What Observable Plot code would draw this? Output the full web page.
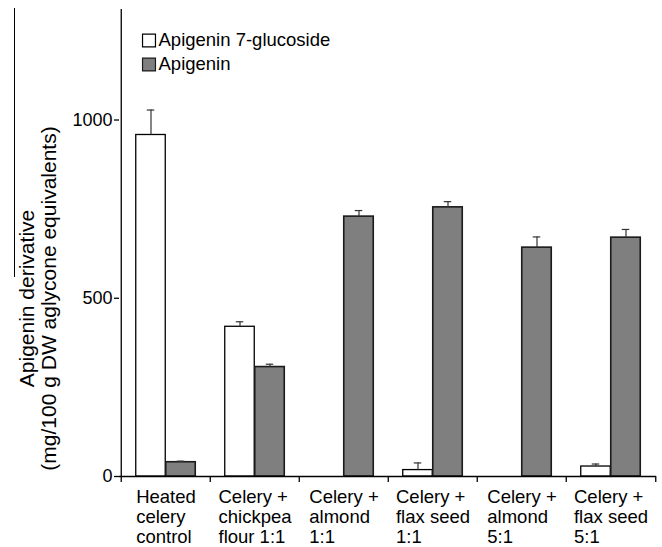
<!DOCTYPE html>
<html><head><meta charset="utf-8">
<script src="https://cdn.jsdelivr.net/npm/d3@7"></script>
<script src="https://cdn.jsdelivr.net/npm/@observablehq/plot@0.6"></script>
<style>
body{margin:0;background:#fff;}
#wrap{position:relative;width:662px;height:547px;}
#artifact{position:absolute;left:14px;top:8px;width:1px;height:269px;background:#000;}
</style></head><body><div id="wrap"><div id="artifact"></div></div>
<script>
const categories = ["Heated\ncelery\ncontrol", "Celery +\nchickpea\nflour 1:1", "Celery +\nalmond\n1:1", "Celery +\nflax seed\n1:1", "Celery +\nalmond\n5:1", "Celery +\nflax seed\n5:1"];
const series = ["Apigenin 7-glucoside", "Apigenin"];
const glucosideMean = [958, 420, 0, 18, 0, 28];
const glucosideErr = [70, 14, 0, 20, 0, 7];
const apigeninMean = [40, 307, 729, 755, 642, 670];
const apigeninErr = [3, 8, 17, 16, 30, 23];
const yTicks = [0, 500, 1000];
const yMax = 1310;
const yLabel = "Apigenin derivative\n(mg/100 g DW aglycone equivalents)";

const gluc = categories.map((c, i) => ({group: c, value: glucosideMean[i], err: glucosideErr[i]}));
const apig = categories.map((c, i) => ({group: c, value: apigeninMean[i], err: apigeninErr[i]}));

const W = 662, H = 547, ML = 119, MR = 6, MT = 9, MB = 71;
const half = (W - ML - MR) / categories.length / 2;
const font = "'Liberation Sans', Arial, Helvetica, sans-serif";

const ctx = document.createElement("canvas").getContext("2d");
ctx.font = "18.5px " + font;
const labelMarks = categories.map(c => {
  const w = d3.max(c.split("\n"), s => ctx.measureText(s).width);
  return Plot.text([c], {x: d => d, text: d => d, frameAnchor: "bottom", textAnchor: "start",
    lineAnchor: "top", dx: -w / 2, dy: 12, fontSize: 18.5, lineHeight: 20 / 18.5, fill: "black"});
});

const capW = 8;
const chart = Plot.plot({
  width: W, height: H,
  marginLeft: ML, marginRight: MR, marginTop: MT, marginBottom: MB,
  style: {fontFamily: font, fontSize: "18px", color: "black", background: "white"},
  x: {domain: categories, padding: 0},
  y: {domain: [0, yMax]},
  marks: [
    Plot.barY(gluc.filter(d => d.value > 0), {x: "group", y: "value", fill: "white", stroke: "black", strokeWidth: 1.3,
      insetLeft: half - 30, insetRight: half}),
    Plot.barY(apig.filter(d => d.value > 0), {x: "group", y: "value", fill: "#7f7f7f", stroke: "#1a1a1a", strokeWidth: 1.6,
      insetLeft: half, insetRight: half - 30}),
    Plot.ruleX(gluc.filter(d => d.err > 0), {x: "group", y1: "value", y2: d => d.value + d.err, dx: -15, stroke: "#333", strokeWidth: 1.2}),
    Plot.ruleX(apig.filter(d => d.err > 0), {x: "group", y1: "value", y2: d => d.value + d.err, dx: 15, stroke: "#333", strokeWidth: 1.2}),
    Plot.tickY(gluc.filter(d => d.err > 0), {x: "group", y: d => d.value + d.err, stroke: "#333", strokeWidth: 1.2,
      insetLeft: half - 15 - capW / 2, insetRight: half + 15 - capW / 2}),
    Plot.tickY(apig.filter(d => d.err > 0), {x: "group", y: d => d.value + d.err, stroke: "#333", strokeWidth: 1.2,
      insetLeft: half + 15 - capW / 2, insetRight: half - 15 - capW / 2}),
    Plot.ruleY([0], {stroke: "black", strokeWidth: 1.3}),
    Plot.ruleX([categories[0]], {x: d => d, dx: -half, y1: 0, y2: yMax, stroke: "black", strokeWidth: 1.3}),
    Plot.axisY({ticks: yTicks, tickFormat: d => String(d), tickSize: 5, tickPadding: 2, fontSize: 18, label: null, strokeWidth: 1.3}),
    Plot.axisX({tickSize: 6, tickFormat: () => "", label: null, dx: -half, strokeWidth: 1.3}),
    Plot.axisX({ticks: [categories[categories.length - 1]], tickSize: 6, tickFormat: () => "", label: null, dx: half, strokeWidth: 1.3}),
    ...labelMarks,
    Plot.text([yLabel], {text: d => d, frameAnchor: "left", rotate: -90, dx: -82, dy: 55.5,
      textAnchor: "middle", lineAnchor: "middle", fontSize: 21, lineHeight: 22 / 21, fill: "black"}),
    Plot.dot([series[0]], {frameAnchor: "top-left", dx: 29.5, dy: 31, symbol: "square", r: 7.3, fill: "white", stroke: "black", strokeWidth: 1.2}),
    Plot.dot([series[1]], {frameAnchor: "top-left", dx: 29.5, dy: 55, symbol: "square", r: 7.3, fill: "#7f7f7f", stroke: "#1a1a1a", strokeWidth: 1.2}),
    Plot.text([series[0]], {text: d => d, frameAnchor: "top-left", dx: 39, dy: 31, textAnchor: "start", lineAnchor: "middle", fontSize: 18.5, fill: "black"}),
    Plot.text([series[1]], {text: d => d, frameAnchor: "top-left", dx: 39, dy: 55, textAnchor: "start", lineAnchor: "middle", fontSize: 18.5, fill: "black"})
  ]
});
document.getElementById("wrap").appendChild(chart);
</script></body></html>
